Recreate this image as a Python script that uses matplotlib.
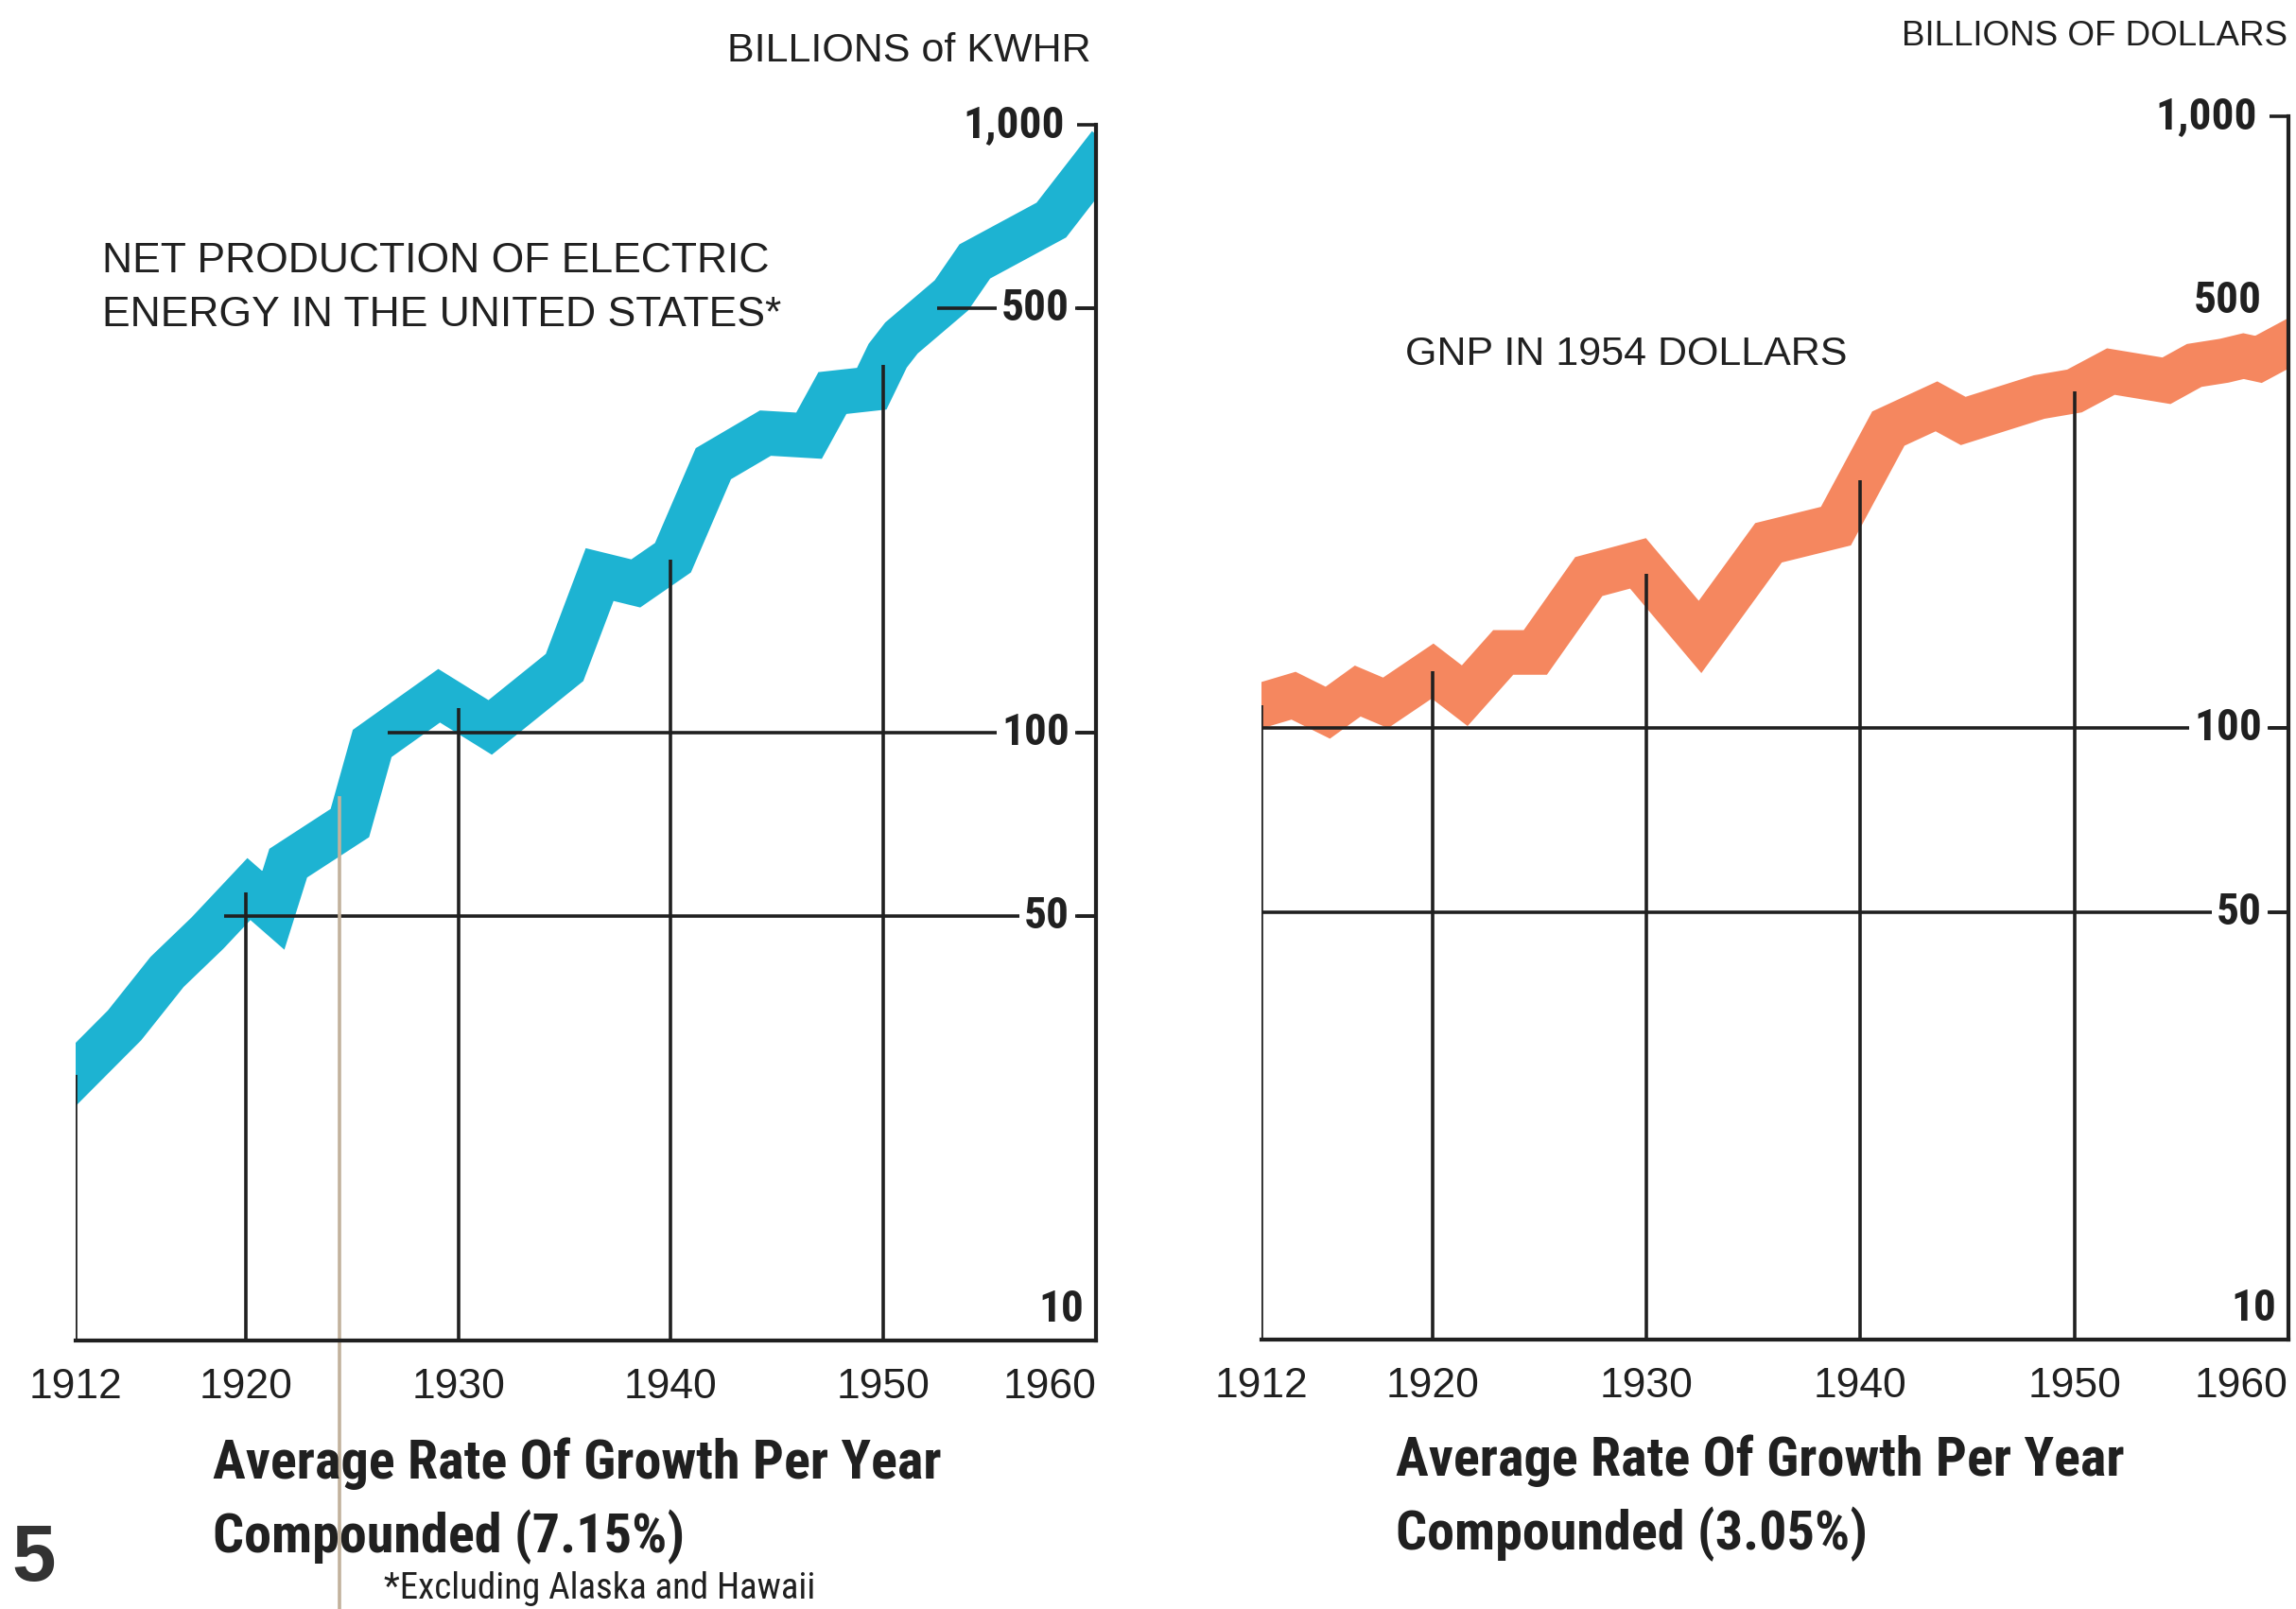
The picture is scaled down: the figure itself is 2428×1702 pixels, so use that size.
import numpy as np
import matplotlib as mpl
mpl.use('Agg')
import matplotlib.pyplot as plt
import matplotlib.transforms as mtrans
from matplotlib import font_manager as fm
from matplotlib.ticker import FixedLocator, NullLocator

# net production of electric energy, billions of kwhr (centre of the band)
elec_year = [1912.0, 1914.3, 1916.3, 1918.2, 1920.15, 1921.3, 1922.0, 1924.9, 1925.95,
             1929.1, 1931.5, 1935.0, 1936.65, 1938.35, 1940.1, 1942.0, 1944.45, 1946.5,
             1947.6, 1949.45, 1950.2, 1950.85, 1953.2, 1954.3, 1957.9, 1960.0]
elec_kwh = [27.4, 33, 40.4, 46.8, 55.3, 51, 61, 71, 96,
            115, 102, 128, 182, 176, 194, 277, 311, 308,
            362, 368, 417, 446, 524, 596, 697, 867]

# gnp in 1954 dollars, billions
gnp_year = [1912.0, 1913.5, 1915.1, 1916.5, 1917.8, 1920.0, 1921.5, 1923.3, 1924.8,
            1927.3, 1929.6, 1932.5, 1935.7, 1938.85, 1941.3, 1943.55, 1944.8, 1948.35,
            1950.0, 1951.7, 1954.3, 1955.6, 1957.0, 1957.9, 1958.6, 1960.0]
gnp_usd = [109, 113, 106, 115, 110, 124, 113, 133, 133,
           177, 186, 141, 201, 214, 309, 336, 318, 348,
           356, 383, 370, 392, 399, 406, 401, 426]

year_ticks = [1912, 1920, 1930, 1940, 1950, 1960]
year_labels = ['1912', '1920', '1930', '1940', '1950', '1960']
val_ticks = [10, 50, 100, 500, 1000]
val_labels = ['10', '50', '100', '500', '1,000']
decades = [1912, 1920, 1930, 1940, 1950]
elec_levels = [50, 100, 500]
gnp_levels = [50, 100]
elec_marks = [50, 100, 500, 1000]
gnp_marks = [50, 100, 1000]
fold_year, fold_top = 1924.4, 78   # tan crease on the scanned page


def has_font(name):
    try:
        fm.findfont(fm.FontProperties(family=name), fallback_to_default=False)
        return True
    except ValueError:
        return False


REG = ['Liberation Sans', 'DejaVu Sans']
narrow_pick = [f for f in ['Liberation Sans Narrow', 'Roboto Condensed',
                           'Open Sans Condensed', 'Noto Sans Condensed'] if has_font(f)]
NARROW = narrow_pick[:1] + ['Liberation Sans', 'DejaVu Sans']

INK = '#202020'
CYAN = '#1db3d2'
SALMON = '#f5875f'
FOLD = '#c2b29c'


def curve_at(x, xs, ys):
    return 10**np.interp(x, xs, np.log10(ys))


def first_cross(level, xs, ys):
    xs = np.asarray(xs, float); ly = np.log10(ys)
    if ly[0] >= np.log10(level):
        return xs[0]
    i = int(np.argmax(ly >= np.log10(level)))
    f = (np.log10(level) - ly[i-1]) / (ly[i] - ly[i-1])
    return xs[i-1] + f*(xs[i] - xs[i-1])


def fit_size(text, size, width_px, **kw):
    # shrink a font size so the text spans the printed width
    renderer = fig.canvas.get_renderer()
    probe = fig.text(0, 0, text, fontsize=size, **kw)
    w = probe.get_window_extent(renderer).width
    probe.remove()
    return min(size, size * width_px / w)


def panel(ax, xs, ys, color, levels, marks):
    ax.set_yscale('log')
    ax.set_xlim(1912, 1960)
    ax.set_ylim(10, 1000)
    ax.plot(xs, ys, color=color, lw=34, solid_joinstyle='miter',
            solid_capstyle='projecting', zorder=2)
    for yr in decades:
        ax.vlines(yr, 10, curve_at(yr, xs, ys), color=INK, lw=2.6, zorder=3)
    for lv in levels:
        ax.hlines(lv, first_cross(lv, xs, ys), 1960, color=INK, lw=2.6, zorder=3)

    for side in ['top', 'left']:
        ax.spines[side].set_visible(False)
    for side in ['right', 'bottom']:
        ax.spines[side].set_linewidth(3)
        ax.spines[side].set_color(INK)
        ax.spines[side].set_zorder(4)

    ax.set_xticks(year_ticks)
    ax.set_xticklabels(year_labels, fontsize=32, family=REG, color=INK)
    ax.get_xticklabels()[-1].set_horizontalalignment('right')
    ax.tick_params(axis='x', length=0, pad=21)

    ax.yaxis.set_major_locator(FixedLocator(marks))
    ax.yaxis.set_minor_locator(NullLocator())
    ax.tick_params(axis='y', which='major', left=False, right=True, direction='in',
                   length=14.5, width=2.6, color=INK, labelleft=False, labelright=False)

    ytr = ax.get_yaxis_transform()
    dpi_tr = ax.figure.dpi_scale_trans
    for v, s in zip(val_ticks, val_labels):
        if v == 10:
            tr = ytr + mtrans.ScaledTranslation(-9/72, 8/72, dpi_tr)
            ax.text(1, v, s, transform=tr, ha='right', va='bottom', fontsize=val_size,
                    fontweight='bold', family=NARROW, color=INK, zorder=5)
            continue
        gap = 24 if v == 1000 else 20
        tr = ytr + mtrans.ScaledTranslation(-gap/72, 0, dpi_tr)
        box = dict(fc='white', ec='none', pad=4) if v in levels else None
        ax.text(1, v, s, transform=tr, ha='right', va='center', fontsize=val_size,
                fontweight='bold', family=NARROW, color=INK, bbox=box, zorder=5)


fig = plt.figure(figsize=(24.28, 17.02), dpi=100)
fig.patch.set_facecolor('white')

val_size = fit_size('1,000', 34, 110, fontweight='bold', family=NARROW)

ax1 = fig.add_axes([0.03295, 0.16686, 0.44440, 0.75558])
ax2 = fig.add_axes([0.54942, 0.16745, 0.44728, 0.75999])
panel(ax1, elec_year, elec_kwh, CYAN, elec_levels, elec_marks)
panel(ax2, gnp_year, gnp_usd, SALMON, gnp_levels, gnp_marks)

# crease running down through the left page
ax1.plot([fold_year, fold_year], [fold_top, 1], color=FOLD, lw=2.6,
         clip_on=False, zorder=3.5)

# headings
fig.text(0.4753, 0.9683, 'BILLIONS of KWHR', ha='right', va='center',
         fontsize=31, family=REG, color=INK)
fig.text(0.9963, 0.9773, 'BILLIONS OF DOLLARS', ha='right', va='center',
         fontsize=26.5, family=REG, color=INK)
fig.text(0.0445, 0.8373, 'NET PRODUCTION OF ELECTRIC', ha='left', va='center',
         fontsize=32, family=REG, color=INK)
fig.text(0.0445, 0.8038, 'ENERGY IN THE UNITED STATES*', ha='left', va='center',
         fontsize=32, family=REG, color=INK)
fig.text(0.612, 0.7797, 'GNP IN 1954 DOLLARS', ha='left', va='center',
         fontsize=31, family=REG, color=INK)

# growth captions, sized so the first line spans ~771 px like the print
cap_size = fit_size('Average Rate Of Growth Per Year', 43, 771,
                    fontweight='bold', family=NARROW)
captions = [(0.0927, 0.0905, 'Average Rate Of Growth Per Year'),
            (0.0927, 0.0447, 'Compounded (7.15%)'),
            (0.6079, 0.0922, 'Average Rate Of Growth Per Year'),
            (0.6079, 0.0464, 'Compounded (3.05%)')]
for x, y, s in captions:
    fig.text(x, y, s, ha='left', va='center', fontsize=cap_size,
             fontweight='bold', family=NARROW, color=INK)

note = '*Excluding Alaska and Hawaii'
note_size = fit_size(note, 28, 474, family=NARROW)
fig.text(0.1672, 0.002, note, ha='left', va='bottom',
         fontsize=note_size, family=NARROW, color=INK)
fig.text(0.005, 0.0306, '5', ha='left', va='center', fontsize=60,
         fontweight='bold', family=REG, color='#333333')

plt.savefig('out.png', dpi=100, facecolor='white')
